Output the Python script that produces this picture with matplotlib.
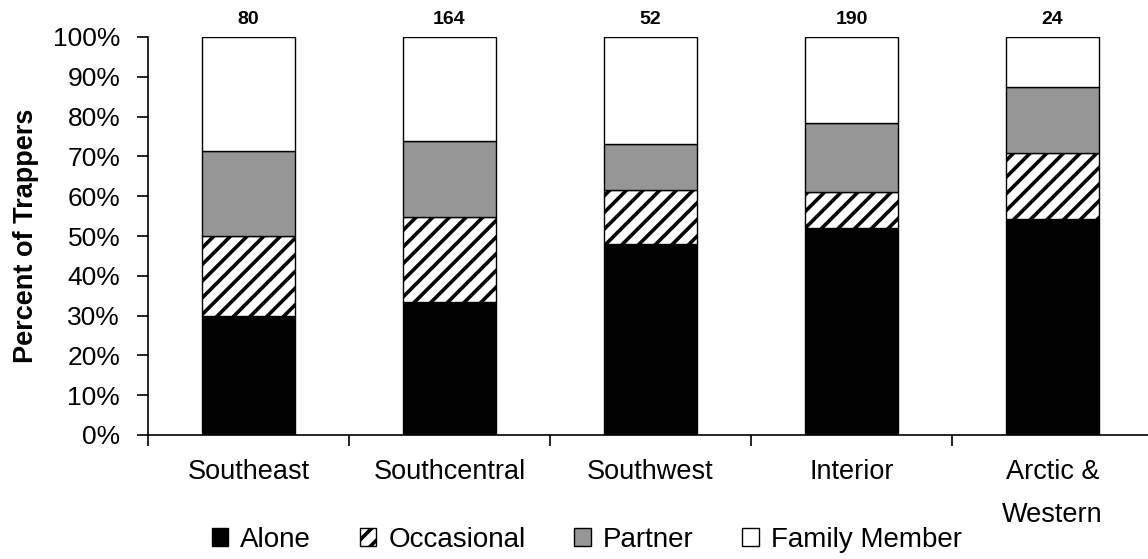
import matplotlib

matplotlib.use("Agg")
import matplotlib.pyplot as plt  # noqa: E402
from matplotlib.patches import Patch  # noqa: E402
from matplotlib.ticker import PercentFormatter  # noqa: E402

# counts (per region, sums to n)
regions = ["Southeast", "Southcentral", "Southwest", "Interior", "Arctic &\nWestern"]
n_trappers = [80, 164, 52, 190, 24]
alone = [24, 55, 25, 99, 13]
occasional = [16, 35, 7, 17, 4]
partner = [17, 31, 6, 33, 4]
family = [23, 43, 14, 41, 3]

plt.rcParams["font.family"] = ["Liberation Sans", "DejaVu Sans"]
plt.rcParams["hatch.linewidth"] = 2.6

series = [
    ("Alone", alone, dict(color="black")),
    ("Occasional", occasional, dict(color="white", hatch="//")),
    ("Partner", partner, dict(color="#969696")),
    ("Family Member", family, dict(color="white")),
]

fig = plt.figure(figsize=(11.48, 5.59), dpi=100)
ax = fig.add_axes([148 / 1148, 124 / 559, 1005 / 1148, 398 / 559])

x = list(range(len(regions)))
bottom = [0.0] * len(regions)
for name, vals, style in series:
    pct = [v / t * 100 for v, t in zip(vals, n_trappers)]
    ax.bar(x, pct, 0.465, bottom=bottom, edgecolor="black", linewidth=1.0, **style)
    bottom = [b + p for b, p in zip(bottom, pct)]

for xi, t in zip(x, n_trappers):
    ax.text(xi, 102.2, str(t), ha="center", va="bottom", fontsize=14, fontweight="bold")

ax.set_xlim(-0.5, len(regions) - 0.5)
ax.set_ylim(0, 100)
ax.set_yticks(range(0, 101, 10))
ax.yaxis.set_major_formatter(PercentFormatter(decimals=0))
ax.set_xticks([i - 0.5 for i in range(len(regions) + 1)])
ax.set_xticklabels([])
ax.set_xticks(x, minor=True)
ax.set_xticklabels(regions, minor=True, fontsize=19.5, va="top", linespacing=1.85)
ax.tick_params(axis="x", which="minor", length=0, pad=17)
ax.tick_params(axis="x", which="major", length=8, width=1.2, direction="out")
ax.tick_params(axis="y", labelsize=19, length=8, width=1.2, direction="out", pad=12)
for s in ("top", "right"):
    ax.spines[s].set_visible(False)
for s in ("left", "bottom"):
    ax.spines[s].set_linewidth(1.2)

ax.set_ylabel("Percent of Trappers", fontsize=19.5, fontweight="bold", labelpad=10)

handles = [Patch(facecolor=st["color"], hatch=st.get("hatch"), edgecolor="black",
                 linewidth=1.0, label=name) for name, _, st in series]
fig.legend(handles=handles, loc="center", bbox_to_anchor=(0.511, 0.034), ncol=4,
           frameon=False, fontsize=20, handlelength=0.6, handleheight=0.6,
           handletextpad=0.43, columnspacing=1.75, borderpad=0.1)

fig.savefig("out.png", dpi=100)
